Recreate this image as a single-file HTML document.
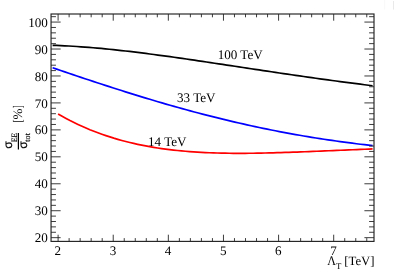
<!DOCTYPE html>
<html><head><meta charset="utf-8"><title>chart</title>
<style>html,body{margin:0;padding:0;background:#fff;overflow:hidden}svg{display:block;will-change:transform}</style>
</head><body>
<svg width="394" height="278" viewBox="0 0 394 278">
<rect width="394" height="278" fill="#fff"/>
<rect x="393.2" y="1" width="0.8" height="8.6" fill="#e4e4e4"/>
<rect x="384.5" y="0" width="0.6" height="9.6" fill="#f4f4f4"/>
<polyline points="52.6,45.31 56.7,45.45 60.7,45.62 64.8,45.81 68.8,46.02 72.9,46.26 76.9,46.51 81.0,46.79 85.0,47.09 89.1,47.40 93.1,47.74 97.2,48.09 101.2,48.46 105.3,48.84 109.3,49.24 113.4,49.66 117.4,50.09 121.5,50.53 125.5,50.99 129.6,51.45 133.6,51.94 137.7,52.43 141.7,52.93 145.8,53.44 149.8,53.97 153.9,54.50 157.9,55.04 162.0,55.58 166.0,56.14 170.1,56.70 174.1,57.27 178.2,57.85 182.2,58.43 186.3,59.01 190.3,59.60 194.4,60.20 198.4,60.79 202.5,61.40 206.5,62.00 210.6,62.61 214.6,63.22 218.7,63.83 222.7,64.44 226.8,65.05 230.8,65.67 234.9,66.28 238.9,66.90 243.0,67.51 247.0,68.12 251.1,68.74 255.1,69.35 259.2,69.96 263.2,70.57 267.3,71.17 271.3,71.78 275.4,72.38 279.4,72.98 283.5,73.58 287.5,74.17 291.6,74.76 295.6,75.35 299.7,75.94 303.7,76.52 307.8,77.09 311.8,77.67 315.9,78.23 319.9,78.80 324.0,79.36 328.0,79.92 332.1,80.47 336.1,81.02 340.2,81.56 344.2,82.10 348.3,82.63 352.3,83.16 356.4,83.68 360.4,84.20 364.5,84.72 368.5,85.23 372.6,85.73" fill="none" stroke="#000000" stroke-width="1.7" stroke-linejoin="round"/>
<polyline points="52.6,67.78 56.7,69.15 60.7,70.53 64.8,71.90 68.8,73.27 72.9,74.63 76.9,75.99 81.0,77.35 85.0,78.70 89.1,80.04 93.1,81.38 97.2,82.71 101.2,84.04 105.3,85.36 109.3,86.67 113.4,87.97 117.4,89.27 121.5,90.56 125.5,91.83 129.6,93.10 133.6,94.36 137.7,95.61 141.7,96.85 145.8,98.08 149.8,99.30 153.9,100.51 157.9,101.71 162.0,102.90 166.0,104.07 170.1,105.23 174.1,106.39 178.2,107.52 182.2,108.65 186.3,109.76 190.3,110.87 194.4,111.95 198.4,113.03 202.5,114.09 206.5,115.14 210.6,116.17 214.6,117.19 218.7,118.20 222.7,119.19 226.8,120.17 230.8,121.13 234.9,122.08 238.9,123.02 243.0,123.94 247.0,124.84 251.1,125.74 255.1,126.61 259.2,127.47 263.2,128.32 267.3,129.15 271.3,129.97 275.4,130.77 279.4,131.56 283.5,132.33 287.5,133.09 291.6,133.83 295.6,134.56 299.7,135.27 303.7,135.97 307.8,136.65 311.8,137.32 315.9,137.97 319.9,138.61 324.0,139.23 328.0,139.84 332.1,140.44 336.1,141.02 340.2,141.59 344.2,142.14 348.3,142.68 352.3,143.21 356.4,143.72 360.4,144.22 364.5,144.70 368.5,145.18 372.6,145.64" fill="none" stroke="#0000ff" stroke-width="1.7" stroke-linejoin="round"/>
<polyline points="58.1,113.91 62.1,116.19 66.1,118.38 70.0,120.47 74.0,122.48 78.0,124.40 82.0,126.24 86.0,127.99 89.9,129.67 93.9,131.26 97.9,132.79 101.9,134.24 105.9,135.61 109.9,136.92 113.8,138.17 117.8,139.35 121.8,140.46 125.8,141.52 129.8,142.51 133.7,143.45 137.7,144.33 141.7,145.16 145.7,145.94 149.7,146.67 153.6,147.35 157.6,147.99 161.6,148.57 165.6,149.12 169.6,149.63 173.5,150.09 177.5,150.52 181.5,150.91 185.5,151.27 189.5,151.59 193.5,151.88 197.4,152.14 201.4,152.36 205.4,152.57 209.4,152.74 213.4,152.89 217.3,153.01 221.3,153.11 225.3,153.19 229.3,153.25 233.3,153.29 237.2,153.31 241.2,153.31 245.2,153.30 249.2,153.27 253.2,153.23 257.2,153.17 261.1,153.10 265.1,153.02 269.1,152.93 273.1,152.83 277.1,152.72 281.0,152.60 285.0,152.47 289.0,152.34 293.0,152.20 297.0,152.06 300.9,151.91 304.9,151.75 308.9,151.60 312.9,151.44 316.9,151.27 320.8,151.11 324.8,150.94 328.8,150.77 332.8,150.60 336.8,150.43 340.8,150.26 344.7,150.09 348.7,149.92 352.7,149.75 356.7,149.58 360.7,149.41 364.6,149.24 368.6,149.07 372.6,148.90" fill="none" stroke="#ff0000" stroke-width="1.7" stroke-linejoin="round"/>
<rect x="51.05" y="14.0" width="322.95" height="227.4" fill="none" stroke="#222" stroke-width="1.15"/>
<path d="M51.05 237.67h9.6M374.0 237.67h-9.6M51.05 232.28h4.9M374.0 232.28h-4.9M51.05 226.89h4.9M374.0 226.89h-4.9M51.05 221.50h4.9M374.0 221.50h-4.9M51.05 216.11h4.9M374.0 216.11h-4.9M51.05 210.72h9.6M374.0 210.72h-9.6M51.05 205.33h4.9M374.0 205.33h-4.9M51.05 199.94h4.9M374.0 199.94h-4.9M51.05 194.55h4.9M374.0 194.55h-4.9M51.05 189.16h4.9M374.0 189.16h-4.9M51.05 183.77h9.6M374.0 183.77h-9.6M51.05 178.38h4.9M374.0 178.38h-4.9M51.05 172.99h4.9M374.0 172.99h-4.9M51.05 167.60h4.9M374.0 167.60h-4.9M51.05 162.21h4.9M374.0 162.21h-4.9M51.05 156.82h9.6M374.0 156.82h-9.6M51.05 151.43h4.9M374.0 151.43h-4.9M51.05 146.04h4.9M374.0 146.04h-4.9M51.05 140.65h4.9M374.0 140.65h-4.9M51.05 135.26h4.9M374.0 135.26h-4.9M51.05 129.87h9.6M374.0 129.87h-9.6M51.05 124.48h4.9M374.0 124.48h-4.9M51.05 119.09h4.9M374.0 119.09h-4.9M51.05 113.70h4.9M374.0 113.70h-4.9M51.05 108.31h4.9M374.0 108.31h-4.9M51.05 102.92h9.6M374.0 102.92h-9.6M51.05 97.53h4.9M374.0 97.53h-4.9M51.05 92.14h4.9M374.0 92.14h-4.9M51.05 86.75h4.9M374.0 86.75h-4.9M51.05 81.36h4.9M374.0 81.36h-4.9M51.05 75.97h9.6M374.0 75.97h-9.6M51.05 70.58h4.9M374.0 70.58h-4.9M51.05 65.19h4.9M374.0 65.19h-4.9M51.05 59.80h4.9M374.0 59.80h-4.9M51.05 54.41h4.9M374.0 54.41h-4.9M51.05 49.02h9.6M374.0 49.02h-9.6M51.05 43.63h4.9M374.0 43.63h-4.9M51.05 38.24h4.9M374.0 38.24h-4.9M51.05 32.85h4.9M374.0 32.85h-4.9M51.05 27.46h4.9M374.0 27.46h-4.9M51.05 22.07h9.6M374.0 22.07h-9.6M51.05 16.68h4.9M374.0 16.68h-4.9M58.10 241.4v-6.7M58.10 14.0v6.7M69.12 241.4v-3.3M69.12 14.0v3.3M80.15 241.4v-3.3M80.15 14.0v3.3M91.17 241.4v-3.3M91.17 14.0v3.3M102.20 241.4v-3.3M102.20 14.0v3.3M113.22 241.4v-6.7M113.22 14.0v6.7M124.24 241.4v-3.3M124.24 14.0v3.3M135.27 241.4v-3.3M135.27 14.0v3.3M146.29 241.4v-3.3M146.29 14.0v3.3M157.32 241.4v-3.3M157.32 14.0v3.3M168.34 241.4v-6.7M168.34 14.0v6.7M179.36 241.4v-3.3M179.36 14.0v3.3M190.39 241.4v-3.3M190.39 14.0v3.3M201.41 241.4v-3.3M201.41 14.0v3.3M212.44 241.4v-3.3M212.44 14.0v3.3M223.46 241.4v-6.7M223.46 14.0v6.7M234.48 241.4v-3.3M234.48 14.0v3.3M245.51 241.4v-3.3M245.51 14.0v3.3M256.53 241.4v-3.3M256.53 14.0v3.3M267.56 241.4v-3.3M267.56 14.0v3.3M278.58 241.4v-6.7M278.58 14.0v6.7M289.60 241.4v-3.3M289.60 14.0v3.3M300.63 241.4v-3.3M300.63 14.0v3.3M311.65 241.4v-3.3M311.65 14.0v3.3M322.68 241.4v-3.3M322.68 14.0v3.3M333.70 241.4v-6.7M333.70 14.0v6.7M344.72 241.4v-3.3M344.72 14.0v3.3M355.75 241.4v-3.3M355.75 14.0v3.3M366.77 241.4v-3.3M366.77 14.0v3.3" fill="none" stroke="#222" stroke-width="0.88"/>
<line x1="18.4" y1="133.05" x2="18.4" y2="149.6" stroke="#000" stroke-width="1.2"/>
<g font-family="'Liberation Serif', serif" font-size="13.1" fill="#000" text-rendering="geometricPrecision"><text x="47.849999999999994" y="242.27" text-anchor="end">20</text><text x="47.849999999999994" y="215.32" text-anchor="end">30</text><text x="47.849999999999994" y="188.37" text-anchor="end">40</text><text x="47.849999999999994" y="161.42" text-anchor="end">50</text><text x="47.849999999999994" y="134.47" text-anchor="end">60</text><text x="47.849999999999994" y="107.52" text-anchor="end">70</text><text x="47.849999999999994" y="80.57" text-anchor="end">80</text><text x="47.849999999999994" y="53.62" text-anchor="end">90</text><text x="47.849999999999994" y="26.67" text-anchor="end">100</text><text x="57.80" y="254.5" text-anchor="middle">2</text><text x="112.92" y="254.5" text-anchor="middle">3</text><text x="168.04" y="254.5" text-anchor="middle">4</text><text x="223.16" y="254.5" text-anchor="middle">5</text><text x="278.28" y="254.5" text-anchor="middle">6</text><text x="333.40" y="254.5" text-anchor="middle">7</text><text x="217.7" y="58.9">100 TeV</text><text x="177.0" y="101.9">33 TeV</text><text x="148.0" y="145.7">14 TeV</text><text transform="translate(327.2,264.9) scale(0.92,1)" x="0" y="0">&#923;</text><text x="336.0" y="268.7" font-size="8.8">T</text><text x="374.6" y="264.9" text-anchor="end" font-size="12.8">[TeV]</text><g transform="rotate(-90)"><text x="-148.8" y="11.8" font-family="'Liberation Sans', sans-serif" font-size="12.1" stroke="#000" stroke-width="0.2">&#963;</text><text transform="translate(-142.0,16.8) scale(0.91,1)" font-size="8.2" stroke="#000" stroke-width="0.15">EE</text><text x="-148.8" y="26.8" font-family="'Liberation Sans', sans-serif" font-size="12.1" stroke="#000" stroke-width="0.2">&#963;</text><text x="-141.7" y="29.6" font-size="8.2" stroke="#000" stroke-width="0.15">tot</text><text transform="translate(-122.4,22.3) scale(0.7,1)">[</text><text x="-119.45" y="22.3">%</text><text transform="translate(-108.3,22.3) scale(0.7,1)">]</text></g></g>
</svg>
</body></html>
